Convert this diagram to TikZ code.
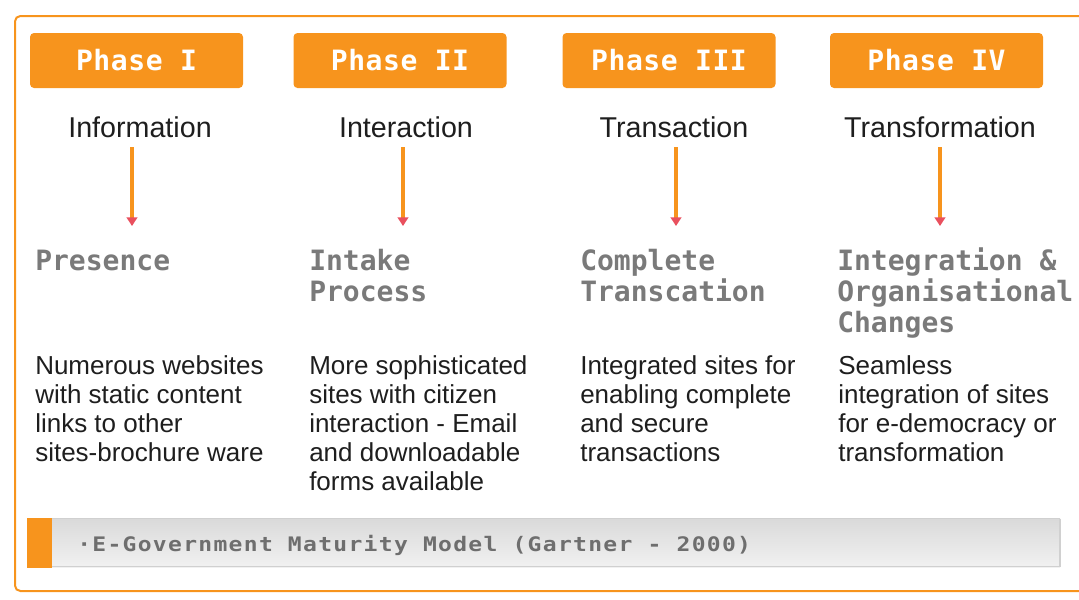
\documentclass[tikz,border=0pt]{standalone}
\usepackage{fontspec}
\setmainfont{Liberation Sans}
\newfontfamily\pixfont{DejaVu Sans Mono}[LetterSpace=2]
\newfontfamily\headfont{DejaVu Sans Mono}
\newfontfamily\capfont{DejaVu Sans Mono}[FakeStretch=1.15,LetterSpace=6.5]
\usetikzlibrary{arrows.meta}

\definecolor{brand}{HTML}{F7941D}
\definecolor{tipred}{HTML}{E9505E}
\definecolor{titlegrey}{HTML}{7A7A7A}
\definecolor{capgrey}{HTML}{6E6E6E}
\definecolor{barfill}{HTML}{F1F1F1}
\definecolor{barline}{HTML}{D0D0D0}
\definecolor{ink}{HTML}{1E1E1E}

% multi-line nodes are anchored at the baseline of their last line
\tikzset{
  phasebox/.style={fill=brand, rounded corners=3pt, inner sep=0pt,
    minimum width=159.75pt, minimum height=41.25pt, text=white,
    font=\pixfont\bfseries\fontsize{21}{24}\selectfont},
  subtitle/.style={anchor=base, inner sep=0pt, text=ink,
    font=\fontsize{21.5}{24}\selectfont},
  stagetitle/.style={anchor=base west, inner sep=0pt, align=left, text=titlegrey,
    font=\headfont\bfseries\fontsize{21}{23.25}\selectfont},
  desc/.style={anchor=base west, inner sep=0pt, align=left, text=ink,
    font=\fontsize{19.5}{21.75}\selectfont},
  flow/.style={draw=brand, line width=2.6pt,
    -{Triangle[width=8pt,length=6.5pt,color=tipred]}},
  captext/.style={anchor=base west, inner sep=0pt, text=capgrey,
    font=\capfont\bfseries\fontsize{15}{18}\selectfont},
}

\begin{document}
\begin{tikzpicture}[x=0.75pt, y=-0.75pt]
  \useasboundingbox (0,0) rectangle (1079,600);
  \clip (0,0) rectangle (1079,600);

  % outer frame
  \draw[brand, line width=1.5pt, rounded corners=4pt] (15,16) rectangle (1095,591);

  % phase headers
  \node (p1) [phasebox] at (136.5,60.5) {Phase I};
  \node (p2) [phasebox] at (400,60.5) {Phase II};
  \node (p3) [phasebox] at (669,60.5) {Phase III};
  \node (p4) [phasebox] at (936.5,60.5) {Phase IV};

  % stage names
  \node (s1) [subtitle] at (140,137) {Information};
  \node (s2) [subtitle] at (406,137) {Interaction};
  \node (s3) [subtitle] at (674,137) {Transaction};
  \node (s4) [subtitle] at (940,137) {Transformation};

  % arrow end points
  \coordinate (a1s) at (132,147); \coordinate (a1e) at (132,226);
  \coordinate (a2s) at (403,147); \coordinate (a2e) at (403,226);
  \coordinate (a3s) at (676,147); \coordinate (a3e) at (676,226);
  \coordinate (a4s) at (940,147); \coordinate (a4e) at (940,226);
  \draw[flow] (a1s) -- (a1e);
  \draw[flow] (a2s) -- (a2e);
  \draw[flow] (a3s) -- (a3e);
  \draw[flow] (a4s) -- (a4e);

  % outcome titles (first baseline at 270, 31px per line)
  \node (t1) [stagetitle] at (35,270) {Presence};
  \node (t2) [stagetitle] at (309,301) {Intake\\Process};
  \node (t3) [stagetitle] at (580,301) {Complete\\Transcation};
  \node (t4) [stagetitle] at (837,332) {Integration \&\\Organisational\\Changes};

  % descriptions (first baseline at 374, 29px per line)
  \node (d1) [desc] at (35,461) {Numerous websites\\with static content\\links to other\\sites-brochure ware};
  \node (d2) [desc] at (309,490) {More sophisticated\\sites with citizen\\interaction - Email\\and downloadable\\forms available};
  \node (d3) [desc] at (580,461) {Integrated sites for\\enabling complete\\and secure\\transactions};
  \node (d4) [desc] at (838,461) {Seamless\\integration of sites\\for e-democracy or\\transformation};

  % caption bar
  \shade[top color=barline!80, bottom color=barfill] (52,518) rectangle (1060,567);
  \draw[barline, line width=0.8pt] (52,518.5) -- (1060,518.5);
  \draw[barline, line width=0.8pt] (52,566.5) -- (1060,566.5) -- (1060,518.5);
  \fill[brand] (27,518) rectangle (52,568);
  \node (cap) [captext] at (77,551) {·E-Government Maturity Model (Gartner - 2000)};
\end{tikzpicture}
\end{document}
